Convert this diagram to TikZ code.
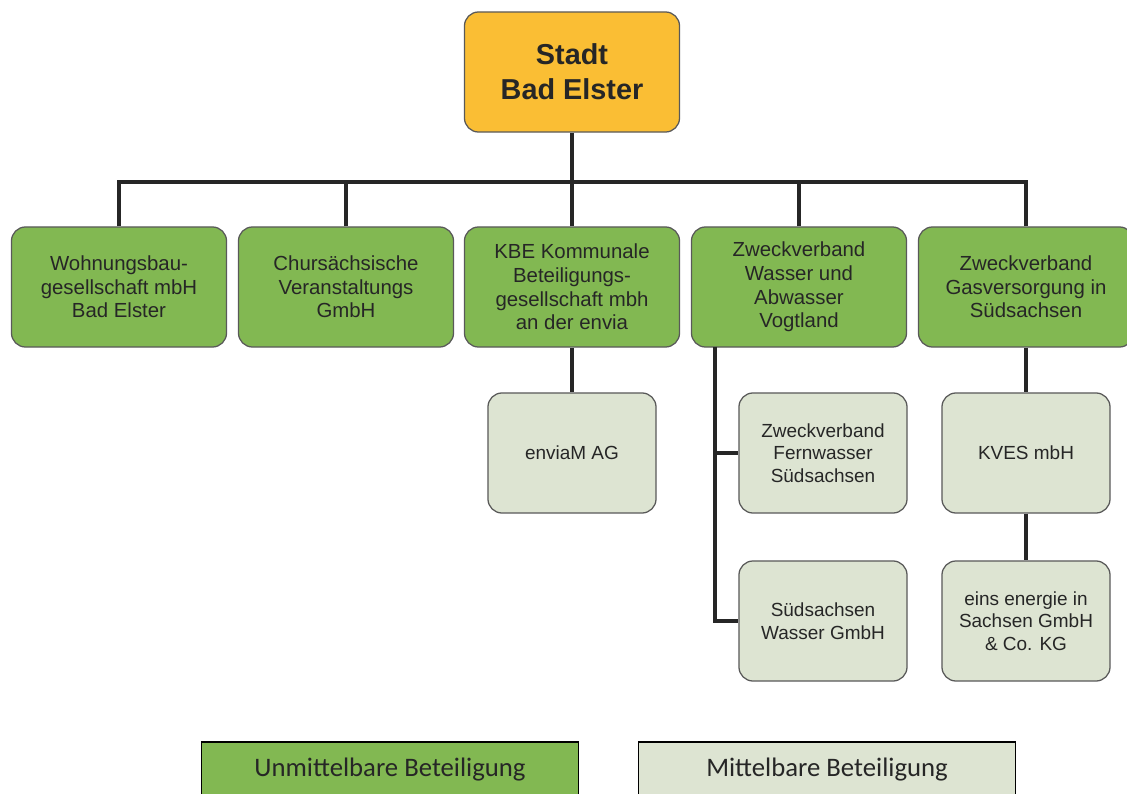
\documentclass[tikz,border=0pt]{standalone}
\usepackage{fontspec}
\setmainfont{Liberation Sans}
\newfontfamily\legendfont{Carlito}
\definecolor{stadtgelb}{RGB}{250,190,52}
\definecolor{direktgruen}{RGB}{130,184,82}
\definecolor{indirektgrau}{RGB}{221,228,210}

\begin{document}
\begin{tikzpicture}[x=0.025cm,y=-0.025cm,
    box/.style={draw=black!65, line width=0.9pt, rounded corners=0.35cm, align=center,
      inner sep=0pt, minimum height=3cm, text=black!85},
    stadtbox/.style={box, fill=stadtgelb, minimum width=5.375cm, font=\fontsize{20.5}{25}\selectfont\bfseries},
    gruenbox/.style={box, fill=direktgruen, minimum width=5.375cm, font=\fontsize{14.5}{16.8}\selectfont},
    hellbox/.style={box, fill=indirektgrau, minimum width=4.2cm, font=\fontsize{13.5}{16}\selectfont},
    legende/.style={draw=black, line width=0.8pt, minimum width=9.42cm, minimum height=1.4cm,
      text=black!85, font=\legendfont\fontsize{19}{22}\selectfont},
    conn/.style={line width=2.6pt, black!85}]
    \useasboundingbox (0,0) rectangle (1127,794);
    \clip (0,0) rectangle (1127,794);
    % Stadt
    \node [stadtbox] (stadt) at (572,72) {Stadt\\Bad Elster};
    % unmittelbare Beteiligungen
    \node [gruenbox] (wbg) at (119,287) {Wohnungsbau-\\gesellschaft mbH\\Bad Elster};
    \node [gruenbox] (cvg) at (346,287) {Chursächsische\\Veranstaltungs\\GmbH};
    \node [gruenbox] (kbe) at (572,287) {KBE Kommunale\\Beteiligungs-\\gesellschaft mbh\\an der envia};
    \node [gruenbox] (zwav) at (799,287) {Zweckverband\\Wasser und\\Abwasser\\Vogtland};
    \node [gruenbox] (zvgs) at (1026,287) {Zweckverband\\Gasversorgung in\\Südsachsen};
    % mittelbare Beteiligungen
    \node [hellbox] (envia) at (572,453) {enviaM AG};
    \node [hellbox] (fws) at (823,453) {Zweckverband\\Fernwasser\\Südsachsen};
    \node [hellbox] (sws) at (823,621) {Südsachsen\\Wasser GmbH};
    \node [hellbox] (kves) at (1026,453) {KVES mbH};
    \node [hellbox] (eins) at (1026,621) {eins energie in\\Sachsen GmbH\\\& Co. KG};
    % Linien
    \coordinate (bus) at (572,182);
    \coordinate (zwfuss) at (715,347);
    \draw [conn] (stadt) -- (bus);
    \foreach \n in {wbg,cvg,kbe,zwav,zvgs}
      \draw [conn] (\n.north) |- (bus);
    \draw [conn] (kbe) -- (envia);
    \draw [conn] (zvgs) -- (kves) -- (eins);
    \draw [conn] (zwfuss) |- (fws.west);
    \draw [conn] (zwfuss) |- (sws.west);
    % Legende
    \node [legende, fill=direktgruen] (unmittelbar) at (390,770) {Unmittelbare Beteiligung};
    \node [legende, fill=indirektgrau] (mittelbar) at (827,770) {Mittelbare Beteiligung};
  \end{tikzpicture}
\end{document}
